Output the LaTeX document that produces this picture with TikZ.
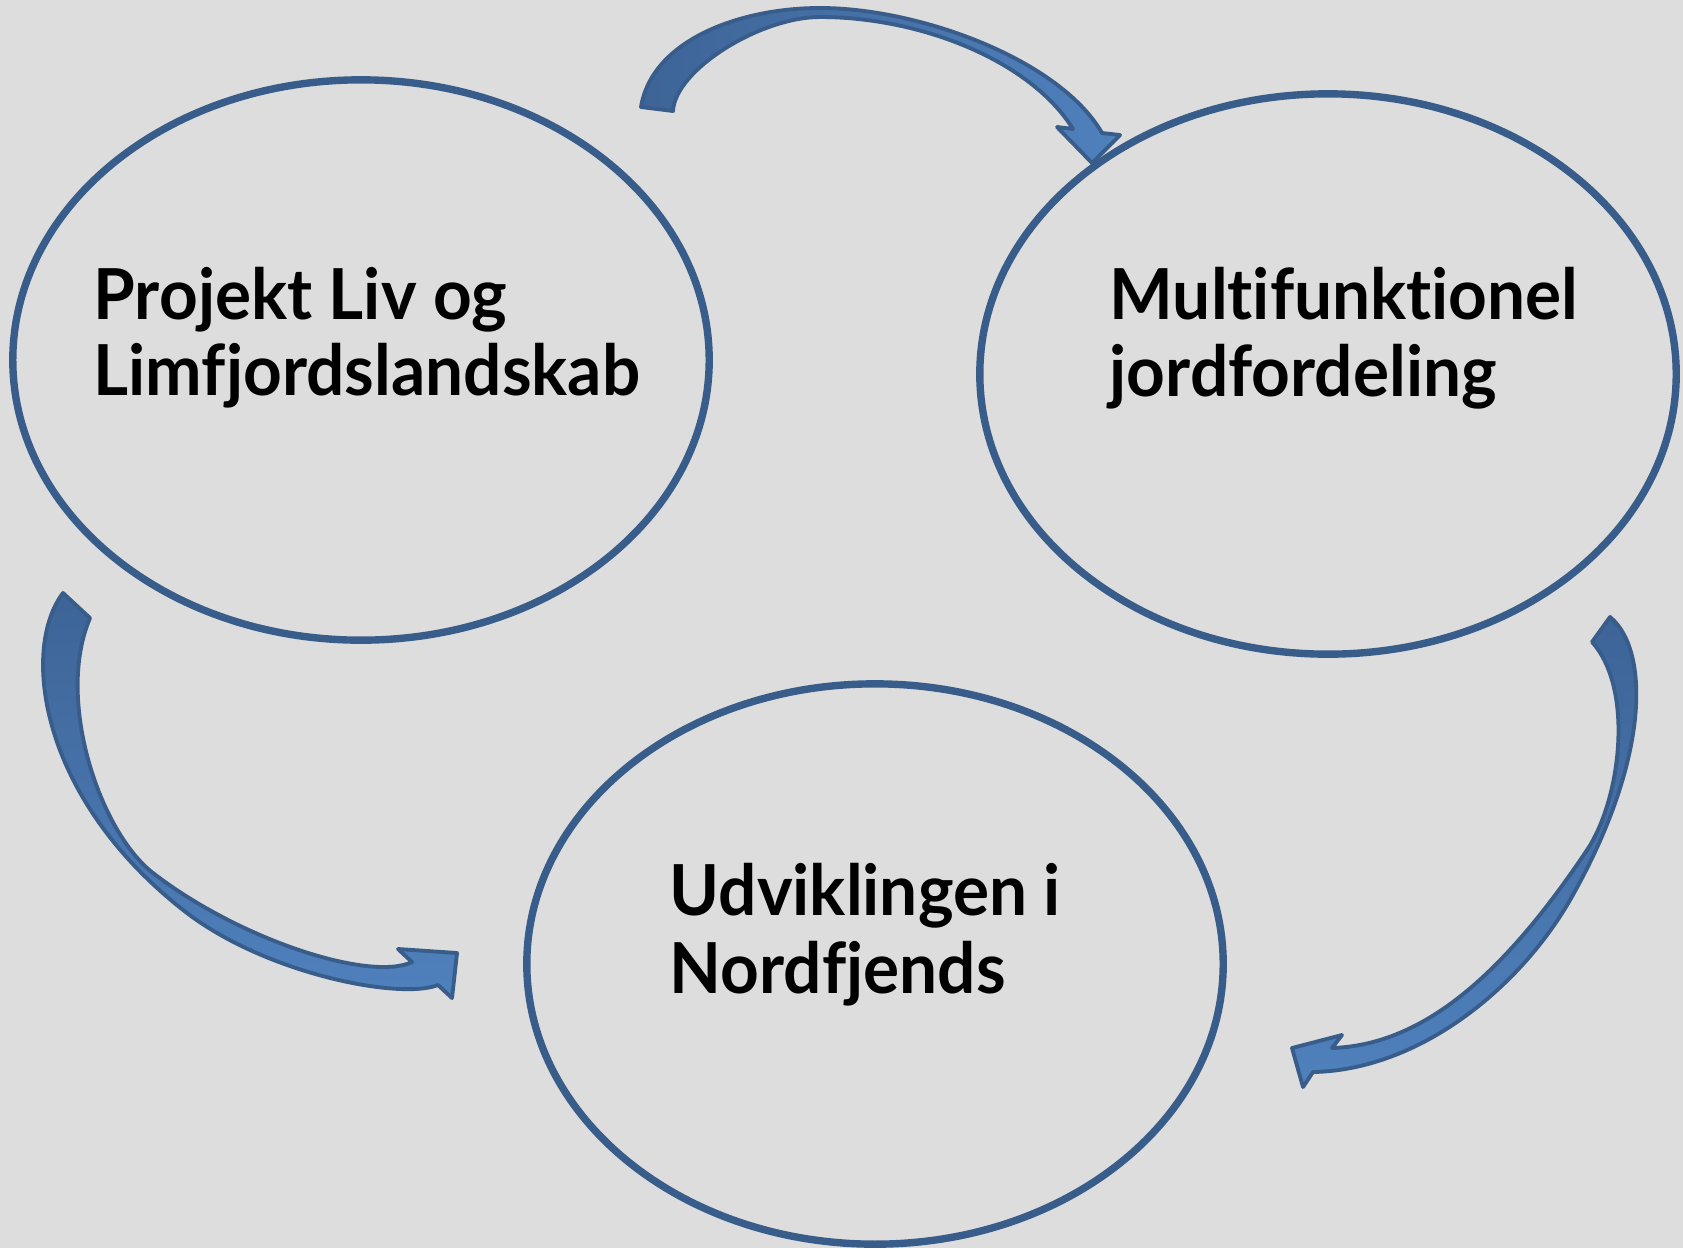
\documentclass[tikz,border=0pt]{standalone}
\usepackage{fontspec}
\setmainfont{Lato}[Ligatures=CommonOff,FakeStretch=0.96]
\usetikzlibrary{shapes.geometric}
\definecolor{bg}{HTML}{DDDDDD}
\definecolor{edge}{HTML}{385D8A}
\definecolor{arrowdark}{HTML}{3E6497}
\definecolor{arrowlight}{HTML}{4F81BD}
\begin{document}
\begin{tikzpicture}[x=0.01cm,y=-0.01cm,
  bubble/.style={ellipse,draw=edge,line width=2.1pt,minimum width=6.96cm,minimum height=5.6cm,inner sep=0pt},
  label/.style={anchor=base west,inner sep=0pt,font=\fontsize{20}{24}\selectfont\bfseries},
  curvarrow/.style={draw=edge,line width=1.1pt,line join=round}]
\fill[bg] (0,0) rectangle (1683,1248);
\useasboundingbox (0,0) rectangle (1683,1248);
\node[bubble] (e1) at (361,360) {};
\node[bubble] (e2) at (1328,374) {};
\node[bubble] (e3) at (875,964) {};
\node[label] (t1a) at (93,319) {Projekt Liv og};
\node[label] (t1b) at (93,395) {Limfjordslandskab};
\node[label] (t2a) at (1109,319) {Multifunktionel};
\node[label] (t2b) at (1109,396) {jordfordeling};
\node[label] (t3a) at (669,915) {Udviklingen i};
\node[label] (t3b) at (669,993) {Nordfjends};
% top arrow: from e1 to e2
\draw[curvarrow,left color=arrowdark,right color=arrowlight]
  (641,107) .. controls (652,40) and (740,8) .. (820,8)
  .. controls (920,8) and (1060,60) .. (1102,133)
  -- (1120,135) -- (1092,163) -- (1057,127) -- (1073,129)
  .. controls (1030,60) and (920,17) .. (820,17)
  .. controls (760,17) and (675,70) .. (673,111) -- cycle;
% left arrow: from e1 to e3
\draw[curvarrow,top color=arrowdark,bottom color=arrowlight]
  (63,593) .. controls (20,650) and (40,800) .. (187,913)
  .. controls (267,974) and (400,1000) .. (438,985)
  -- (452,998) -- (457,953) -- (398,949) -- (412,962)
  .. controls (370,982) and (240,940) .. (153,873)
  .. controls (100,832) and (55,700) .. (90,618) -- cycle;
% right arrow: from e2 to e3
\draw[curvarrow,top color=arrowdark,bottom color=arrowlight]
  (1610,617) .. controls (1650,650) and (1650,760) .. (1570,900)
  .. controls (1520,987) and (1420,1070) .. (1313,1072)
  -- (1303,1087) -- (1292,1048) -- (1342,1035) -- (1332,1048)
  .. controls (1420,1045) and (1500,980) .. (1587,850)
  .. controls (1620,801) and (1635,690) .. (1592,642) -- cycle;
\end{tikzpicture}
\end{document}
